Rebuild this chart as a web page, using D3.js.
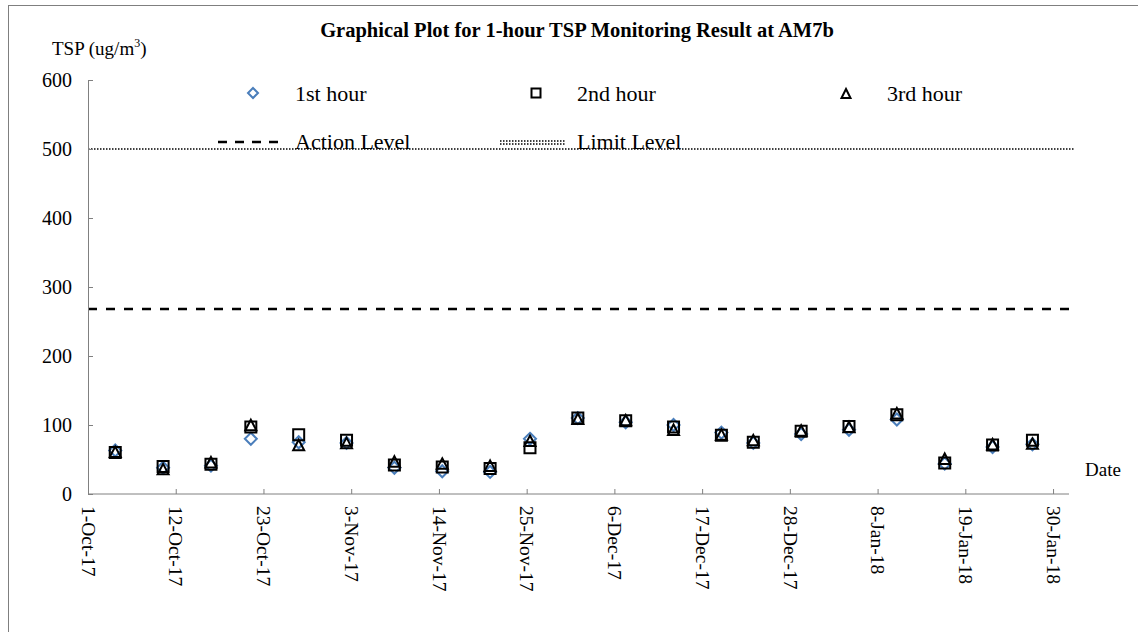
<!DOCTYPE html>
<html>
  <head>
    <title>1-hour TSP Monitoring Result at AM7b</title>
    <script src="https://d3js.org/d3.v7.min.js"></script>
    <style>
      body { margin: 0; background: #fff; }
      svg { display: block; }
      text { font-family: "Liberation Serif", "Times New Roman", serif; fill: #000; }
    </style>
  </head>
  <body>
    <svg></svg>
    <script>
      // sampling dates (monitoring starts around 10:00)
      var dates = [
        "2017-10-04", "2017-10-10", "2017-10-16", "2017-10-21", "2017-10-27",
        "2017-11-02", "2017-11-08", "2017-11-14", "2017-11-20", "2017-11-25",
        "2017-12-01", "2017-12-07", "2017-12-13", "2017-12-19", "2017-12-23",
        "2017-12-29", "2018-01-04", "2018-01-10", "2018-01-16", "2018-01-22",
        "2018-01-27"
      ];
      var hour1 = [63, 38, 41, 80, 75, 74, 38, 33, 32, 80, 110, 104, 100, 89, 74, 87, 93, 108, 44, 68, 72];
      var hour2 = [60, 40, 43, 97, 86, 78, 42, 39, 37, 67, 110, 106, 97, 85, 75, 91, 98, 115, 45, 71, 78];
      var hour3 = [60, 35, 45, 99, 70, 73, 46, 43, 40, 76, 108, 106, 92, 85, 77, 91, 96, 116, 50, 71, 72];

      var actionLevel = 268;
      var limitLevel = 500;

      var yTicks = [0, 100, 200, 300, 400, 500, 600];
      var xTickDates = [
        "2017-10-01", "2017-10-12", "2017-10-23", "2017-11-03", "2017-11-14",
        "2017-11-25", "2017-12-06", "2017-12-17", "2017-12-28", "2018-01-08",
        "2018-01-19", "2018-01-30"
      ];
      var xDomain = ["2017-10-01", "2018-02-01"];

      var parseDay = d3.timeParse("%Y-%m-%d");
      var parseTime = d3.timeParse("%Y-%m-%d %H:%M");
      var fmt = d3.timeFormat("%-d-%b-%y");

      var width = 1138, height = 632;
      var svg = d3.select("svg").attr("width", width).attr("height", height);

      // outer chart border
      svg.append("rect")
        .attr("x", 8.5).attr("y", 5.5)
        .attr("width", 1160).attr("height", 660)
        .attr("fill", "none").attr("stroke", "#7f7f7f").attr("stroke-width", 1);

      var x = d3.scaleTime()
        .domain(xDomain.map(parseDay))
        .range([88, 1069]);
      var y = d3.scaleLinear().domain([0, 600]).range([494, 80]);

      // title
      svg.append("text")
        .attr("x", 577).attr("y", 37)
        .attr("text-anchor", "middle")
        .attr("font-size", 20.5).attr("font-weight", "bold")
        .text("Graphical Plot for 1-hour TSP Monitoring Result at AM7b");

      // y title
      var yt = svg.append("text").attr("x", 52).attr("y", 55).attr("font-size", 19);
      yt.append("tspan").text("TSP (ug/m");
      yt.append("tspan").attr("font-size", 12).attr("dy", -8).text("3");
      yt.append("tspan").attr("dy", 8).text(")");

      // x label
      svg.append("text")
        .attr("x", 1085).attr("y", 476)
        .attr("font-size", 19)
        .text("Date");

      // reference lines
      svg.append("line")
        .attr("x1", x.range()[0]).attr("x2", x.range()[1] + 2)
        .attr("y1", y(actionLevel)).attr("y2", y(actionLevel))
        .attr("stroke", "#000").attr("stroke-width", 2.5)
        .attr("stroke-dasharray", "9,9");
      svg.append("line")
        .attr("x1", x.range()[0]).attr("x2", x.range()[1] + 6)
        .attr("y1", y(limitLevel)).attr("y2", y(limitLevel))
        .attr("stroke", "#000").attr("stroke-width", 1.5)
        .attr("stroke-dasharray", "1.5,1.5");

      // y axis
      var gy = svg.append("g")
        .attr("transform", "translate(" + x.range()[0] + ",0)")
        .call(d3.axisRight(y).tickValues(yTicks).tickSize(5).tickFormat(d3.format("d")));
      gy.selectAll("path, line").attr("stroke", "#808080");
      gy.selectAll("text")
        .attr("x", -16).attr("text-anchor", "end")
        .attr("font-size", 20).attr("font-family", "Liberation Serif, serif").attr("fill", "#000");

      // x axis
      var gx = svg.append("g")
        .attr("transform", "translate(0," + y(0) + ")")
        .call(d3.axisTop(x).tickValues(xTickDates.map(parseDay)).tickSize(5).tickFormat(fmt));
      gx.selectAll("path, line").attr("stroke", "#808080");
      gx.select(".domain").attr("d", "M" + x.range()[0] + ",0H" + x.range()[1]);
      gx.selectAll("text")
        .attr("font-size", 19.5).attr("font-family", "Liberation Serif, serif").attr("fill", "#000")
        .attr("text-anchor", "start")
        .attr("transform", "rotate(90)")
        .attr("x", 12).attr("y", 0).attr("dy", "0.35em");

      var pts = dates.map(function (d, i) {
        return { t: parseTime(d + " 10:00"), h1: hour1[i], h2: hour2[i], h3: hour3[i] };
      });

      var diamond = "M0,-6L6,0L0,6L-6,0Z";
      var square = "M-5.5,-5.5H5.5V5.5H-5.5Z";
      var triangle = "M0,-6L5.5,4.5H-5.5Z";

      function drawSeries(key, shape, color) {
        svg.append("g").selectAll("path")
          .data(pts).enter().append("path")
          .attr("d", shape)
          .attr("transform", function (d) { return "translate(" + x(d.t) + "," + y(d[key]) + ")"; })
          .attr("fill", "none").attr("stroke", color).attr("stroke-width", 2);
      }
      drawSeries("h1", diamond, "#4a7ebb");
      drawSeries("h2", square, "#000");
      drawSeries("h3", triangle, "#000");

      // legend
      var leg = svg.append("g");
      leg.append("path").attr("d", "M0,-5L5,0L0,5L-5,0Z").attr("transform", "translate(253,93)")
        .attr("fill", "none").attr("stroke", "#4a7ebb").attr("stroke-width", 2);
      leg.append("text").attr("x", 295).attr("y", 101).attr("font-size", 22).text("1st hour");
      leg.append("path").attr("d", "M-4.5,-4.5H4.5V4.5H-4.5Z").attr("transform", "translate(536,93)")
        .attr("fill", "none").attr("stroke", "#000").attr("stroke-width", 2);
      leg.append("text").attr("x", 577).attr("y", 101).attr("font-size", 22).text("2nd hour");
      leg.append("path").attr("d", "M0,-5L4.5,4H-4.5Z").attr("transform", "translate(846,94)")
        .attr("fill", "none").attr("stroke", "#000").attr("stroke-width", 2);
      leg.append("text").attr("x", 887).attr("y", 101).attr("font-size", 22).text("3rd hour");

      leg.append("line").attr("x1", 218).attr("x2", 283).attr("y1", 142).attr("y2", 142)
        .attr("stroke", "#000").attr("stroke-width", 2.5).attr("stroke-dasharray", "9,8");
      leg.append("text").attr("x", 295).attr("y", 149).attr("font-size", 22).text("Action Level");
      leg.append("line").attr("x1", 500).attr("x2", 566).attr("y1", 141).attr("y2", 141)
        .attr("stroke", "#000").attr("stroke-width", 1.5).attr("stroke-dasharray", "1.5,1.5");
      leg.append("line").attr("x1", 500).attr("x2", 566).attr("y1", 144).attr("y2", 144)
        .attr("stroke", "#000").attr("stroke-width", 1.5).attr("stroke-dasharray", "1.5,1.5");
      leg.append("text").attr("x", 577).attr("y", 149).attr("font-size", 22).text("Limit Level");
    </script>
  </body>
</html>
